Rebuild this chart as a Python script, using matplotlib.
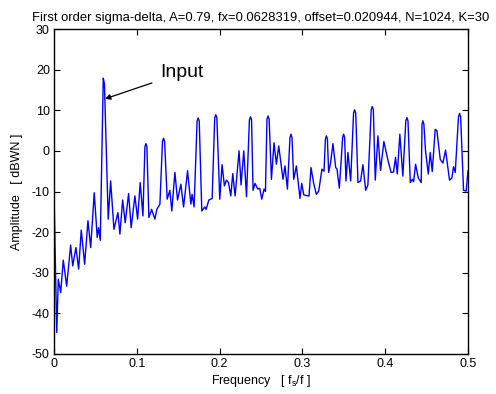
import matplotlib
matplotlib.use("Agg")
import matplotlib.pyplot as plt

plt.rcParams['font.family'] = ['Liberation Sans', 'DejaVu Sans']
plt.rcParams['mathtext.fontset'] = 'custom'
plt.rcParams['mathtext.rm'] = 'Liberation Sans'

title = "First order sigma-delta, A=0.79, fx=0.0628319, offset=0.020944, N=1024, K=30"
xlabel = "Frequency   [ f$_\\mathregular{s}$/f ]"
ylabel = "Amplitude   [ dBWN ]"
annot_text = "Input"

freq = [0.0, 0.0033, 0.0052, 0.0081, 0.0112, 0.0153, 0.0201, 0.0226, 0.0265, 0.0298,
        0.0329, 0.0370, 0.0410, 0.0443, 0.0486, 0.0522, 0.0539, 0.0559, 0.0595, 0.0609,
        0.0655, 0.0684, 0.0724, 0.0772, 0.0796, 0.0829, 0.0860, 0.0901, 0.0932, 0.0977,
        0.1010, 0.1041, 0.1074, 0.1098, 0.1110, 0.1122, 0.1146, 0.1179, 0.1218, 0.1242,
        0.1279, 0.1310, 0.1323, 0.1336, 0.1367, 0.1399, 0.1423, 0.1460, 0.1492, 0.1532,
        0.1565, 0.1613, 0.1653, 0.1668, 0.1692, 0.1728, 0.1741, 0.1754, 0.1785, 0.1821,
        0.1837, 0.1870, 0.1910, 0.1941, 0.1954, 0.1967, 0.2002, 0.2030, 0.2058, 0.2083,
        0.2107, 0.2135, 0.2159, 0.2187, 0.2235, 0.2259, 0.2292, 0.2325, 0.2360, 0.2373,
        0.2386, 0.2404, 0.2428, 0.2461, 0.2485, 0.2509, 0.2537, 0.2554, 0.2572, 0.2585,
        0.2598, 0.2626, 0.2657, 0.2686, 0.2714, 0.2766, 0.2790, 0.2819, 0.2850, 0.2862,
        0.2874, 0.2895, 0.2927, 0.2971, 0.2992, 0.3016, 0.3048, 0.3080, 0.3104, 0.3136,
        0.3169, 0.3197, 0.3236, 0.3261, 0.3278, 0.3290, 0.3302, 0.3317, 0.3341, 0.3369,
        0.3402, 0.3418, 0.3446, 0.3486, 0.3498, 0.3510, 0.3526, 0.3550, 0.3583, 0.3618,
        0.3631, 0.3644, 0.3671, 0.3703, 0.3731, 0.3764, 0.3791, 0.3831, 0.3844, 0.3857,
        0.3880, 0.3912, 0.3944, 0.3984, 0.4033, 0.4071, 0.4101, 0.4125, 0.4146, 0.4177,
        0.4213, 0.4249, 0.4262, 0.4275, 0.4303, 0.4327, 0.4343, 0.4367, 0.4399, 0.4435,
        0.4445, 0.4455, 0.4467, 0.4487, 0.4520, 0.4544, 0.4568, 0.4604, 0.4624, 0.4665,
        0.4697, 0.4729, 0.4777, 0.4805, 0.4825, 0.4846, 0.4885, 0.4898, 0.4911, 0.4946,
        0.4978, 0.5]
amplitude = [-10, -44.7, -31.6, -34.9, -26.9, -33.3, -23.2, -28.3, -23.8, -29.1,
             -19.5, -27.9, -17.2, -23.8, -10.3, -21.3, -18.9, -22, 17.9, 16.5,
             -16.8, -7.4, -19.3, -15.2, -20.5, -12.1, -17.7, -10.5, -18.9, -11.1,
             -16.8, -7.8, -16, 1.0, 1.8, 1.0, -16.4, -14.4, -16.8, -14.4,
             -13.1, 2.3, 3.1, 2.3, -11.9, -9.7, -14.8, -5.3, -12.1, -8.2,
             -13.8, -4.9, -13.1, -10.7, -13.8, 7.3, 8.1, 7.3, -14.8, -13.8,
             -14.4, -12.1, -11.7, 8.1, 8.9, 8.1, -11.9, -3.4, -8.6, -7.2,
             -7.8, -11.1, -5.6, -11.1, 0, -8.4, 0, -11.3, 7.6, 8.4,
             7.6, -9.7, -8, -9.4, -9.2, -11.9, -9.4, -10.0, 7.8, 8.6,
             7.8, -7, 2, -3.3, 1.2, -7, -3.7, -9.4, 3.3, 4.1,
             3.3, -7, -3.7, -11.7, -8, -10.8, -11.0, -11.1, -4.1, -8,
             -10.7, -9.9, -4.5, -5.0, 2.9, 3.7, 2.9, -5.3, -2.9, 1.8,
             -4.1, -4.5, -9.2, 3.3, 4.1, 3.3, -7.4, -0.4, -7.4, 9.3,
             10.1, 9.3, -7.8, -7.4, -3.4, -9.7, -8.4, 10.1, 10.9, 10.1,
             -7.2, 3.7, -4.8, 2.3, -2.3, -5.3, -5.2, -1.6, -5.7, 4.1,
             -6.2, 7.4, 8.2, 7.4, -7.8, -7.0, -7.6, -3.3, -6.6, -7.8,
             6.6, 7.4, 6.6, 0, -5.7, -0.4, -5.1, 5.3, 5.0, -2.1,
             -3.0, 0.2, -7.2, -6.7, -3.9, -5.3, 8.4, 9.2, 8.4, -9.7,
             -9.9, -4.9]

xticks = [0, 0.1, 0.2, 0.3, 0.4, 0.5]
xticklabels = ["0", "0.1", "0.2", "0.3", "0.4", "0.5"]
yticks = [-50, -40, -30, -20, -10, 0, 10, 20, 30]
yticklabels = ["-50", "-40", "-30", "-20", "-10", "0", "10", "20", "30"]

fig = plt.figure(figsize=(4.96, 3.94), dpi=100)
ax = fig.add_axes([54/496, 1-354/394, (468-54)/496, (354-29)/394])
ax.plot(freq, amplitude, color='#0000ff', lw=1.0)
ax.set_xlim(0, 0.5)
ax.set_ylim(-50, 30)
ax.set_xticks(xticks)
ax.set_xticklabels(xticklabels)
ax.set_yticks(yticks)
ax.set_yticklabels(yticklabels)
ax.tick_params(direction='in', top=True, right=True, length=4, width=0.8,
               labelsize=9, pad=3)
for s in ax.spines.values():
    s.set_linewidth(1.0)
ax.set_title(title, fontsize=9.35, pad=6)
ax.set_xlabel(xlabel, fontsize=9, labelpad=2)
ax.set_ylabel(ylabel, fontsize=9, labelpad=6)
ax.annotate(annot_text, xy=(0.0615, 12.8), xytext=(0.128, 19.2),
            fontsize=14, va='center', ha='left',
            arrowprops=dict(arrowstyle='-|>', color='black', lw=0.9,
                            mutation_scale=8, shrinkA=4, shrinkB=0))
fig.savefig("out.png", dpi=100)
